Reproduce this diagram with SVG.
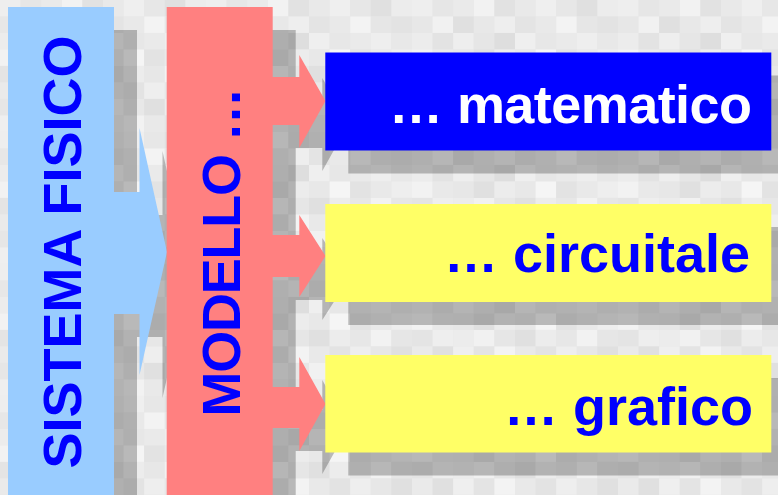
<svg xmlns="http://www.w3.org/2000/svg" width="778" height="495" viewBox="0 0 778 495">
  <style>
    .lbl { font-family: "Liberation Sans", Arial, sans-serif; font-weight: bold; font-size: 54px; }
    .blue-text { fill: #0000ff; }
    .white-text { fill: #ffffff; }
    .sys { fill: #99ccff; }
    .mod { fill: #ff8080; }
    .box-blue { fill: #0000ff; }
    .box-yellow { fill: #ffff66; }
  </style>
  <defs>
    <!-- grey mosaic backdrop: 10 x 8 cells of 20.6 x 16.5 -->
    <pattern id="mosaic" patternUnits="userSpaceOnUse" width="206" height="132">
      <rect width="206" height="132" fill="#e8e8e8"/>
      <g transform="scale(1.03,1.031)">
        <rect x="0" y="0" width="20" height="16" fill="#eeeeee"/><rect x="20" y="0" width="20" height="16" fill="#e6e6e6"/><rect x="40" y="0" width="20" height="16" fill="#eaeaea"/><rect x="60" y="0" width="20" height="16" fill="#f2f2f2"/><rect x="80" y="0" width="20" height="16" fill="#e2e2e2"/><rect x="100" y="0" width="20" height="16" fill="#e9e9e9"/><rect x="120" y="0" width="20" height="16" fill="#efefef"/><rect x="140" y="0" width="20" height="16" fill="#e7e7e7"/><rect x="160" y="0" width="20" height="16" fill="#e0e0e0"/><rect x="180" y="0" width="20" height="16" fill="#ececec"/>
        <rect x="0" y="16" width="20" height="16" fill="#e7e7e7"/><rect x="20" y="16" width="20" height="16" fill="#f1f1f1"/><rect x="40" y="16" width="20" height="16" fill="#e0e0e0"/><rect x="60" y="16" width="20" height="16" fill="#e8e8e8"/><rect x="80" y="16" width="20" height="16" fill="#eeeeee"/><rect x="100" y="16" width="20" height="16" fill="#e4e4e4"/><rect x="120" y="16" width="20" height="16" fill="#e9e9e9"/><rect x="140" y="16" width="20" height="16" fill="#f3f3f3"/><rect x="160" y="16" width="20" height="16" fill="#e6e6e6"/><rect x="180" y="16" width="20" height="16" fill="#e3e3e3"/>
        <rect x="0" y="32" width="20" height="16" fill="#ececec"/><rect x="20" y="32" width="20" height="16" fill="#e3e3e3"/><rect x="40" y="32" width="20" height="16" fill="#eeeeee"/><rect x="60" y="32" width="20" height="16" fill="#e6e6e6"/><rect x="80" y="32" width="20" height="16" fill="#dedede"/><rect x="100" y="32" width="20" height="16" fill="#efefef"/><rect x="120" y="32" width="20" height="16" fill="#e7e7e7"/><rect x="140" y="32" width="20" height="16" fill="#eaeaea"/><rect x="160" y="32" width="20" height="16" fill="#eeeeee"/><rect x="180" y="32" width="20" height="16" fill="#e8e8e8"/>
        <rect x="0" y="48" width="20" height="16" fill="#f2f2f2"/><rect x="20" y="48" width="20" height="16" fill="#e9e9e9"/><rect x="40" y="48" width="20" height="16" fill="#e7e7e7"/><rect x="60" y="48" width="20" height="16" fill="#e0e0e0"/><rect x="80" y="48" width="20" height="16" fill="#ececec"/><rect x="100" y="48" width="20" height="16" fill="#e8e8e8"/><rect x="120" y="48" width="20" height="16" fill="#f5f5f5"/><rect x="140" y="48" width="20" height="16" fill="#e3e3e3"/><rect x="160" y="48" width="20" height="16" fill="#e9e9e9"/><rect x="180" y="48" width="20" height="16" fill="#eeeeee"/>
        <rect x="0" y="64" width="20" height="16" fill="#e4e4e4"/><rect x="20" y="64" width="20" height="16" fill="#eeeeee"/><rect x="40" y="64" width="20" height="16" fill="#ececec"/><rect x="60" y="64" width="20" height="16" fill="#f1f1f1"/><rect x="80" y="64" width="20" height="16" fill="#e6e6e6"/><rect x="100" y="64" width="20" height="16" fill="#e0e0e0"/><rect x="120" y="64" width="20" height="16" fill="#ececec"/><rect x="140" y="64" width="20" height="16" fill="#e7e7e7"/><rect x="160" y="64" width="20" height="16" fill="#f2f2f2"/><rect x="180" y="64" width="20" height="16" fill="#e6e6e6"/>
        <rect x="0" y="80" width="20" height="16" fill="#eaeaea"/><rect x="20" y="80" width="20" height="16" fill="#e0e0e0"/><rect x="40" y="80" width="20" height="16" fill="#efefef"/><rect x="60" y="80" width="20" height="16" fill="#e4e4e4"/><rect x="80" y="80" width="20" height="16" fill="#f3f3f3"/><rect x="100" y="80" width="20" height="16" fill="#e9e9e9"/><rect x="120" y="80" width="20" height="16" fill="#e3e3e3"/><rect x="140" y="80" width="20" height="16" fill="#eeeeee"/><rect x="160" y="80" width="20" height="16" fill="#e7e7e7"/><rect x="180" y="80" width="20" height="16" fill="#e0e0e0"/>
        <rect x="0" y="96" width="20" height="16" fill="#e6e6e6"/><rect x="20" y="96" width="20" height="16" fill="#ececec"/><rect x="40" y="96" width="20" height="16" fill="#e8e8e8"/><rect x="60" y="96" width="20" height="16" fill="#eeeeee"/><rect x="80" y="96" width="20" height="16" fill="#e7e7e7"/><rect x="100" y="96" width="20" height="16" fill="#f1f1f1"/><rect x="120" y="96" width="20" height="16" fill="#e8e8e8"/><rect x="140" y="96" width="20" height="16" fill="#e0e0e0"/><rect x="160" y="96" width="20" height="16" fill="#ececec"/><rect x="180" y="96" width="20" height="16" fill="#efefef"/>
        <rect x="0" y="112" width="20" height="16" fill="#efefef"/><rect x="20" y="112" width="20" height="16" fill="#e7e7e7"/><rect x="40" y="112" width="20" height="16" fill="#e1e1e1"/><rect x="60" y="112" width="20" height="16" fill="#eaeaea"/><rect x="80" y="112" width="20" height="16" fill="#e3e3e3"/><rect x="100" y="112" width="20" height="16" fill="#ececec"/><rect x="120" y="112" width="20" height="16" fill="#f2f2f2"/><rect x="140" y="112" width="20" height="16" fill="#e9e9e9"/><rect x="160" y="112" width="20" height="16" fill="#e4e4e4"/><rect x="180" y="112" width="20" height="16" fill="#e8e8e8"/>
      </g>
    </pattern>
    <!-- shared outlines, reused for the shapes and their offset shadows -->
    <path id="sys-arrow" d="M112,192 H139.5 V128 L167,252 L139.5,375 V314 H112 Z"/>
    <path id="mod-arrow1" d="M270,77 H299.3 V55 L325.5,101 L299.3,148 V125 H270 Z"/>
    <path id="mod-arrow2" d="M270,235 H299.3 V215 L325.5,256 L299.3,297 V277 H270 Z"/>
    <path id="mod-arrow3" d="M270,387 H299.3 V357 L325.5,404 L299.3,451 V428 H270 Z"/>
  </defs>

  <rect width="778" height="495" fill="url(#mosaic)"/>

  <!-- drop shadows, offset 23,23 -->
  <g id="shadows" opacity="0.24" fill="#000000" transform="translate(23,23)">
    <rect x="8" y="7" width="106" height="500"/>
    <use href="#sys-arrow"/>
    <rect x="166.7" y="7" width="106" height="500"/>
    <use href="#mod-arrow1"/>
    <use href="#mod-arrow2"/>
    <use href="#mod-arrow3"/>
    <rect x="325.3" y="52.5" width="446" height="98"/>
    <rect x="325.3" y="204" width="446" height="98"/>
    <rect x="325.3" y="355" width="446" height="97.5"/>
  </g>

  <g id="sistema-fisico">
    <rect class="sys" x="8" y="7" width="106" height="500"/>
    <text class="lbl blue-text" transform="translate(81,252) rotate(-90)" text-anchor="middle">SISTEMA FISICO</text>
  </g>

  <g id="connectors">
    <use href="#sys-arrow" class="sys"/>
    <use href="#mod-arrow1" class="mod"/>
    <use href="#mod-arrow2" class="mod"/>
    <use href="#mod-arrow3" class="mod"/>
  </g>

  <g id="modello">
    <rect class="mod" x="166.7" y="7" width="106" height="500"/>
    <text class="lbl blue-text" transform="translate(240,252) rotate(-90)" text-anchor="middle" textLength="329" lengthAdjust="spacing">MODELLO …</text>
  </g>

  <g id="matematico">
    <rect class="box-blue" x="325.3" y="52.5" width="446" height="98"/>
    <text class="lbl white-text" x="752" y="123" text-anchor="end" textLength="363" lengthAdjust="spacing">… matematico</text>
  </g>

  <g id="circuitale">
    <rect class="box-yellow" x="325.3" y="204" width="446" height="98"/>
    <text class="lbl blue-text" x="750" y="272" text-anchor="end">… circuitale</text>
  </g>

  <g id="grafico">
    <rect class="box-yellow" x="325.3" y="355" width="446" height="97.5"/>
    <text class="lbl blue-text" x="753" y="425" text-anchor="end">… grafico</text>
  </g>
</svg>
